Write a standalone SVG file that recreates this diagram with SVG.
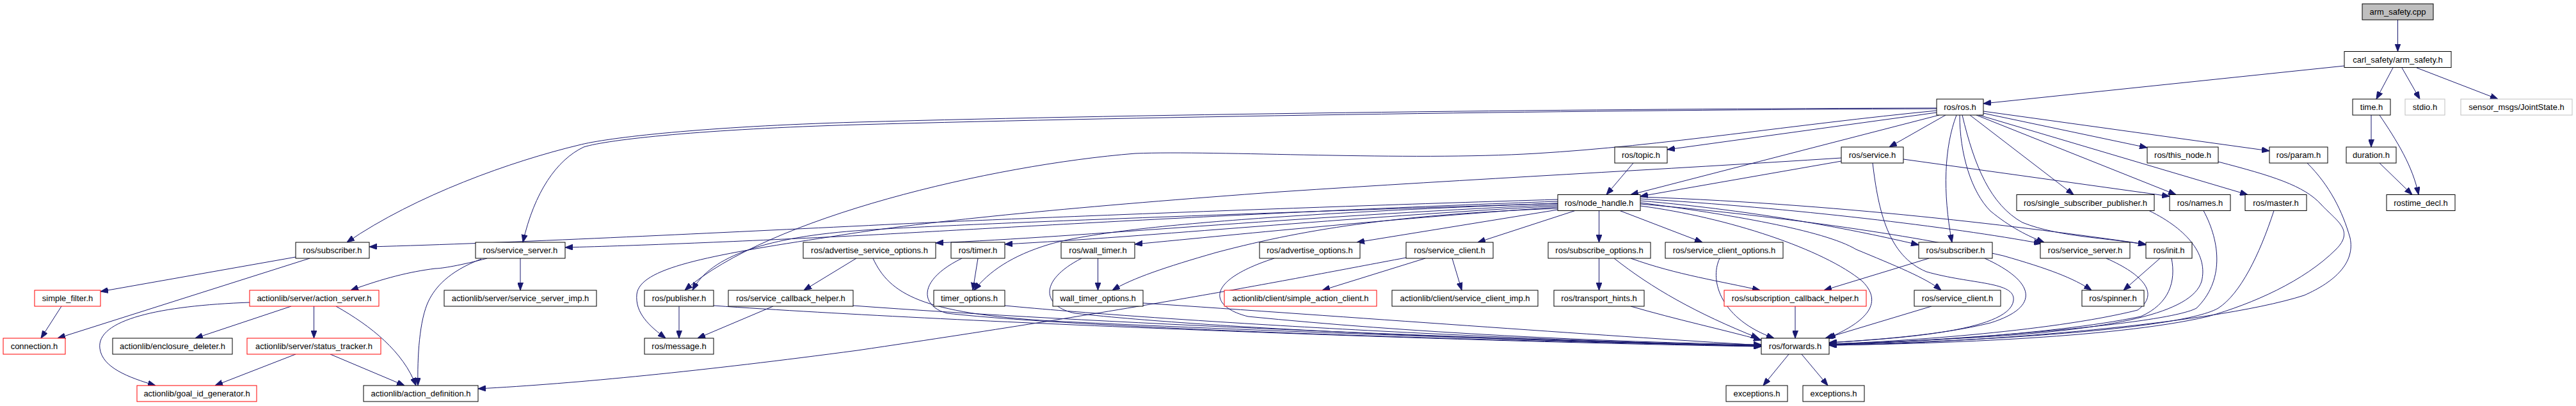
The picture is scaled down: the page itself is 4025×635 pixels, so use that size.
<svg xmlns="http://www.w3.org/2000/svg" width="4025" height="635" viewBox="0 0 4025 635">
<style>
.n rect{fill:#ffffff;stroke:#000000;stroke-width:1}
.n.red rect{stroke:#ff0000}
.n.grey rect{stroke:#bfbfbf}
.n.root rect{fill:#bfbfbf}
.n text{font-family:"Liberation Sans",Arial,sans-serif;font-size:13px;fill:#000000;text-anchor:middle}
#edges path{fill:none;stroke:#191970;stroke-width:1;marker-end:url(#ah)}
</style>
<defs>
<marker id="ah" markerUnits="userSpaceOnUse" markerWidth="12" markerHeight="9" refX="12" refY="4.5" orient="auto">
<path d="M0,0 L12,4.5 L0,9 z" fill="#191970" stroke="#191970" stroke-width="1"/>
</marker>
</defs>
<rect width="4025" height="635" fill="#ffffff"/>
<g id="edges">
<path d="M3746.5,31 L3746.5,80.5"/>
<path d="M3663,103 L3099,162"/>
<path d="M3739,106 L3713,155"/>
<path d="M3753,106 L3781,155"/>
<path d="M3776,106 L3903,155"/>
<path d="M3705,180 L3705,230"/>
<path d="M3718,180 C3745,220 3770,260 3779,304.5"/>
<path d="M3718,255 L3769,304.5"/>
<path d="M3026,169 C2500,170 1800,178 1340,191 C1100,198 950,215 904,227 C800,252 650,305 542,379"/>
<path d="M3026,170 C2500,172 1800,182 1340,195 C1100,202 950,218 912,230 C870,250 835,300 817,379"/>
<path d="M3026,173 C2800,195 2600,228 2400,240 C2200,252 1900,235 1774,240 C1550,258 1200,340 1070,454"/>
<path d="M3026,176 L2605,234"/>
<path d="M3030,180 L2548,304.5"/>
<path d="M3040,180 L2952,230"/>
<path d="M3057,180 C3038,230 3035,300 3050,379"/>
<path d="M3062,180 C3062,240 3080,300 3110,330 C3140,355 3170,370 3194,379"/>
<path d="M3066,180 C3085,260 3110,320 3160,348 C3220,372 3300,372 3353,383"/>
<path d="M3078,180 L3240,304.5"/>
<path d="M3099,174 L3546,236"/>
<path d="M3099,177 L3355,231"/>
<path d="M3092,180 L3512,304.5"/>
<path d="M3088,180 L3400,304.5"/>
<path d="M2552,255 L2510,304.5"/>
<path d="M2877,252 L2563,307"/>
<path d="M2877,247 C2600,265 2300,280 2000,300 C1700,322 1450,345 1300,370 C1100,400 1000,420 995,460 C992,490 1015,510 1040,529"/>
<path d="M2974,249 L3390,307"/>
<path d="M2926,255 C2935,330 2950,400 3010,425 C3080,445 3150,440 3146,470 C3140,520 2950,530 2858,536"/>
<path d="M2461,329.5 L2309,379"/>
<path d="M2498.5,329.5 L2498.5,379"/>
<path d="M2531,329.5 L2660,379"/>
<path d="M2434,328 L2120,379"/>
<path d="M2434,312 C2000,325 1500,345 1350,353 C1100,365 800,380 577,386"/>
<path d="M2434,315 C2000,330 1500,360 1350,368 C1150,378 1000,384 883,387"/>
<path d="M2434,318 C2000,332 1500,350 1350,360 C1200,370 1110,400 1082,454"/>
<path d="M2434,320 C2000,340 1700,370 1462,380"/>
<path d="M2434,322 C2100,340 1800,370 1570,382"/>
<path d="M2434,318 C2100,330 1750,350 1640,382 C1580,400 1545,425 1522,454"/>
<path d="M2434,324 C2200,340 1950,365 1773,382"/>
<path d="M2434,326 C2200,335 2050,355 1900,395 C1820,418 1770,435 1738,454"/>
<path d="M2563,308 C2900,320 3200,360 3353,382"/>
<path d="M2563,311 C2800,325 3050,355 3190,381"/>
<path d="M2563,314 C2750,330 2900,360 2998,383"/>
<path d="M2563,317 C2700,335 2850,360 2900,390 C2960,415 3010,435 3033,454"/>
<path d="M2563,319 C2800,340 3000,370 3130,400 C3200,420 3240,435 3268,454"/>
<path d="M2563,322 C2700,340 2850,390 2910,440 C2950,480 2900,510 2856,529"/>
<path d="M2227,404 L2066,454"/>
<path d="M2269,404 L2284,454"/>
<path d="M2197,403 C2000,440 1800,480 1340,548 C1100,580 900,600 747,608"/>
<path d="M2498.5,404 L2498.5,454"/>
<path d="M2548,404 C2620,430 2690,440 2750,454"/>
<path d="M2522,404 C2580,450 2650,490 2748,529"/>
<path d="M2687,404 C2670,440 2690,500 2772,529"/>
<path d="M2548,479 C2620,500 2690,515 2752,532"/>
<path d="M1786,474 C2100,495 2500,525 2752,540"/>
<path d="M1570,478 C1800,500 2300,530 2752,541"/>
<path d="M1364,404 C1390,460 1440,490 1643,502 C2000,520 2500,535 2752,542"/>
<path d="M1503,404 C1430,440 1440,480 1480,490 C1700,515 2400,535 2752,541"/>
<path d="M1690,404 C1620,440 1630,480 1680,490 C1900,515 2400,535 2752,540"/>
<path d="M1991,404 C1880,440 1890,480 1950,495 C2200,520 2500,535 2752,539"/>
<path d="M1115,478 C1500,505 2300,535 2752,542"/>
<path d="M1333,478 C1700,505 2300,530 2752,541"/>
<path d="M1528,404 L1520,454"/>
<path d="M1715.5,404 L1715.5,454"/>
<path d="M1338,404 L1256,454"/>
<path d="M1208,479 L1090,529"/>
<path d="M1061,479 L1061,529"/>
<path d="M813,404 L813,454"/>
<path d="M761,404 C720,415 690,420 680,420 C640,425 600,435 548,454"/>
<path d="M752,405 C700,425 680,450 670,470 C655,500 652,560 653,603"/>
<path d="M462,402 L157,456"/>
<path d="M484,404 L90,529"/>
<path d="M96,479 L64,529"/>
<path d="M390,473 C250,478 150,500 156,545 C160,575 200,590 243,603"/>
<path d="M455,479 L305,529"/>
<path d="M490.5,479 L490.5,529"/>
<path d="M525,479 C580,510 630,550 650,603"/>
<path d="M462,554 L336,603"/>
<path d="M516,554 L632,603"/>
<path d="M3014,404 L2850,454"/>
<path d="M3101,404 C3180,440 3190,480 3110,505 C3030,525 2920,532 2858,536"/>
<path d="M3018,479 L2852,529"/>
<path d="M2805,479 L2805,529"/>
<path d="M2795,554 L2755,603"/>
<path d="M2815,554 L2856,603"/>
<path d="M3375,404 L3318,454"/>
<path d="M3291,404 C3350,430 3375,460 3340,485 C3200,520 2950,535 2858,538"/>
<path d="M3393,404 C3400,440 3390,475 3345,495 C3200,525 2950,537 2858,538"/>
<path d="M3358,329.5 C3420,360 3450,400 3440,440 C3425,490 3300,515 3100,527 C3000,533 2900,537 2858,538"/>
<path d="M3443,329.5 C3470,380 3475,440 3432,482 C3380,510 3000,535 2858,539"/>
<path d="M3553,329.5 C3530,400 3500,460 3466,482 C3400,520 3000,537 2858,539"/>
<path d="M3466,253 C3550,275 3600,290 3627,320 C3650,345 3680,360 3650,390 C3600,440 3520,475 3450,495 C3300,530 3000,538 2858,540"/>
<path d="M3605,255 C3640,290 3660,330 3672,372 C3680,410 3650,440 3600,462 C3450,510 3050,538 2858,540"/>
</g>
<g id="n_arm" class="n root"><rect x="3691" y="6" width="111" height="25"/><text x="3746.5" y="23">arm_safety.cpp</text></g>
<g id="n_carl" class="n"><rect x="3663" y="80.5" width="167" height="25"/><text x="3746.5" y="97.5">carl_safety/arm_safety.h</text></g>
<g id="n_ros" class="n"><rect x="3026" y="155" width="73" height="25"/><text x="3062.5" y="172">ros/ros.h</text></g>
<g id="n_time" class="n"><rect x="3676" y="155" width="59" height="25"/><text x="3705.5" y="172">time.h</text></g>
<g id="n_stdio" class="n grey"><rect x="3758" y="155" width="62" height="25"/><text x="3789" y="172">stdio.h</text></g>
<g id="n_joint" class="n grey"><rect x="3845" y="155" width="174" height="25"/><text x="3932" y="172">sensor_msgs/JointState.h</text></g>
<g id="n_topic" class="n"><rect x="2523" y="230" width="82" height="25"/><text x="2564" y="247">ros/topic.h</text></g>
<g id="n_service" class="n"><rect x="2877" y="230" width="97" height="25"/><text x="2925.5" y="247">ros/service.h</text></g>
<g id="n_thisnode" class="n"><rect x="3355" y="230" width="111" height="25"/><text x="3410.5" y="247">ros/this_node.h</text></g>
<g id="n_param" class="n"><rect x="3546" y="230" width="91" height="25"/><text x="3591.5" y="247">ros/param.h</text></g>
<g id="n_duration" class="n"><rect x="3666" y="230" width="78" height="25"/><text x="3705" y="247">duration.h</text></g>
<g id="n_nh" class="n"><rect x="2434" y="304.5" width="129" height="25"/><text x="2498.5" y="321.5">ros/node_handle.h</text></g>
<g id="n_ssp" class="n"><rect x="3151" y="304.5" width="215" height="25"/><text x="3258.5" y="321.5">ros/single_subscriber_publisher.h</text></g>
<g id="n_names" class="n"><rect x="3390" y="304.5" width="95" height="25"/><text x="3437.5" y="321.5">ros/names.h</text></g>
<g id="n_master" class="n"><rect x="3508" y="304.5" width="96" height="25"/><text x="3556" y="321.5">ros/master.h</text></g>
<g id="n_rostime" class="n"><rect x="3729" y="304.5" width="107" height="25"/><text x="3782.5" y="321.5">rostime_decl.h</text></g>
<g id="n_sub1" class="n"><rect x="462" y="379" width="115" height="25"/><text x="519.5" y="396">ros/subscriber.h</text></g>
<g id="n_ss1" class="n"><rect x="743" y="379" width="140" height="25"/><text x="813" y="396">ros/service_server.h</text></g>
<g id="n_aso" class="n"><rect x="1255" y="379" width="207" height="25"/><text x="1358.5" y="396">ros/advertise_service_options.h</text></g>
<g id="n_timer" class="n"><rect x="1486" y="379" width="84" height="25"/><text x="1528" y="396">ros/timer.h</text></g>
<g id="n_wtimer" class="n"><rect x="1658" y="379" width="115" height="25"/><text x="1715.5" y="396">ros/wall_timer.h</text></g>
<g id="n_ao" class="n"><rect x="1968" y="379" width="157" height="25"/><text x="2046.5" y="396">ros/advertise_options.h</text></g>
<g id="n_sc1" class="n"><rect x="2197" y="379" width="136" height="25"/><text x="2265" y="396">ros/service_client.h</text></g>
<g id="n_so" class="n"><rect x="2419" y="379" width="160" height="25"/><text x="2499" y="396">ros/subscribe_options.h</text></g>
<g id="n_sco" class="n"><rect x="2602" y="379" width="184" height="25"/><text x="2694" y="396">ros/service_client_options.h</text></g>
<g id="n_sub2" class="n"><rect x="2998" y="379" width="115" height="25"/><text x="3055.5" y="396">ros/subscriber.h</text></g>
<g id="n_ss2" class="n"><rect x="3188" y="379" width="140" height="25"/><text x="3258" y="396">ros/service_server.h</text></g>
<g id="n_init" class="n"><rect x="3353" y="379" width="72" height="25"/><text x="3389" y="396">ros/init.h</text></g>
<g id="n_sf" class="n red"><rect x="54" y="454" width="103" height="25"/><text x="105.5" y="471">simple_filter.h</text></g>
<g id="n_as" class="n red"><rect x="390" y="454" width="202" height="25"/><text x="491" y="471">actionlib/server/action_server.h</text></g>
<g id="n_ssi" class="n"><rect x="694" y="454" width="238" height="25"/><text x="813" y="471">actionlib/server/service_server_imp.h</text></g>
<g id="n_pub" class="n"><rect x="1007" y="454" width="108" height="25"/><text x="1061" y="471">ros/publisher.h</text></g>
<g id="n_sch" class="n"><rect x="1138" y="454" width="195" height="25"/><text x="1235.5" y="471">ros/service_callback_helper.h</text></g>
<g id="n_to" class="n"><rect x="1459" y="454" width="111" height="25"/><text x="1514.5" y="471">timer_options.h</text></g>
<g id="n_wto" class="n"><rect x="1645" y="454" width="141" height="25"/><text x="1715.5" y="471">wall_timer_options.h</text></g>
<g id="n_sac" class="n red"><rect x="1913" y="454" width="238" height="25"/><text x="2032" y="471">actionlib/client/simple_action_client.h</text></g>
<g id="n_sci" class="n"><rect x="2175" y="454" width="228" height="25"/><text x="2289" y="471">actionlib/client/service_client_imp.h</text></g>
<g id="n_th" class="n"><rect x="2428" y="454" width="141" height="25"/><text x="2498.5" y="471">ros/transport_hints.h</text></g>
<g id="n_subcb" class="n red"><rect x="2694" y="454" width="222" height="25"/><text x="2805" y="471">ros/subscription_callback_helper.h</text></g>
<g id="n_sc2" class="n"><rect x="2991" y="454" width="135" height="25"/><text x="3058.5" y="471">ros/service_client.h</text></g>
<g id="n_spin" class="n"><rect x="3253" y="454" width="97" height="25"/><text x="3301.5" y="471">ros/spinner.h</text></g>
<g id="n_conn" class="n red"><rect x="5" y="529" width="97" height="25"/><text x="53.5" y="546">connection.h</text></g>
<g id="n_ed" class="n"><rect x="176" y="529" width="187" height="25"/><text x="269.5" y="546">actionlib/enclosure_deleter.h</text></g>
<g id="n_st" class="n red"><rect x="386" y="529" width="209" height="25"/><text x="490.5" y="546">actionlib/server/status_tracker.h</text></g>
<g id="n_msg" class="n"><rect x="1007" y="529" width="108" height="25"/><text x="1061" y="546">ros/message.h</text></g>
<g id="n_fwd" class="n"><rect x="2752" y="529" width="106" height="25"/><text x="2805" y="546">ros/forwards.h</text></g>
<g id="n_gid" class="n red"><rect x="214" y="603" width="187" height="25"/><text x="307.5" y="620">actionlib/goal_id_generator.h</text></g>
<g id="n_ad" class="n"><rect x="568" y="603" width="179" height="25"/><text x="657.5" y="620">actionlib/action_definition.h</text></g>
<g id="n_ex1" class="n"><rect x="2697" y="603" width="96" height="25"/><text x="2745" y="620">exceptions.h</text></g>
<g id="n_ex2" class="n"><rect x="2817" y="603" width="96" height="25"/><text x="2865" y="620">exceptions.h</text></g>
</svg>
